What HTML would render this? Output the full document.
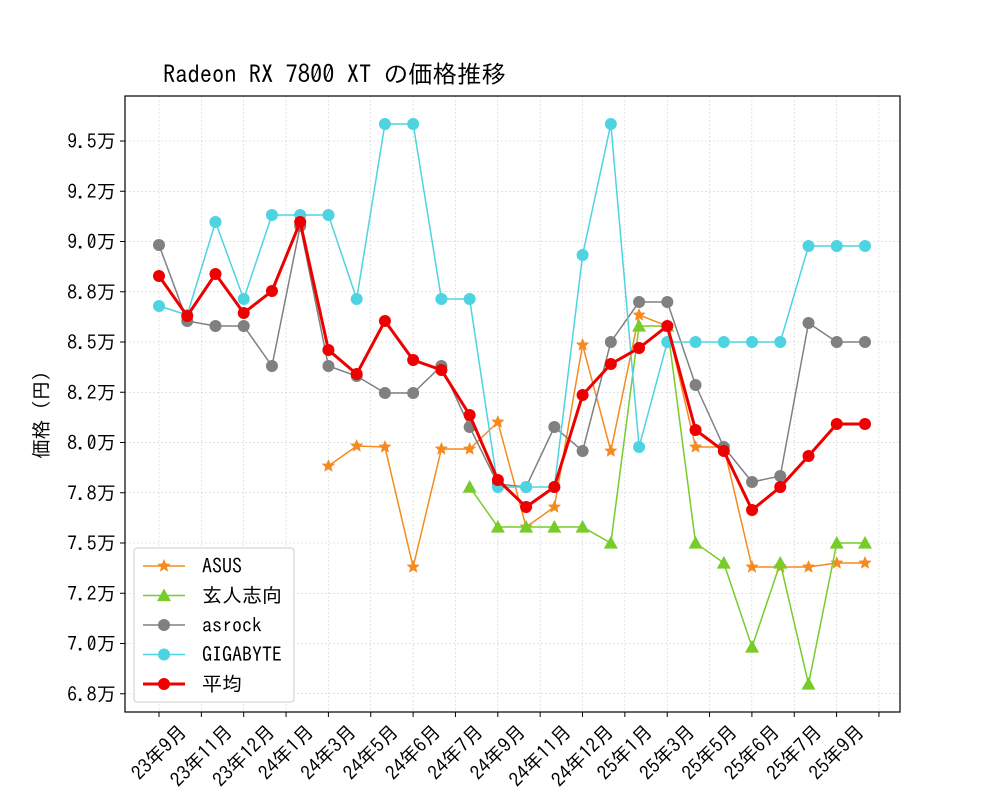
<!DOCTYPE html>
<html><head><meta charset="utf-8"><style>
body{margin:0;background:#fff}
svg text{font-family:"IPAGothic","Noto Sans CJK JP",monospace;fill:#000}
</style></head><body>
<svg width="1000" height="800" xmlns="http://www.w3.org/2000/svg">
<rect width="1000" height="800" fill="#fff"/>
<g id="grid" stroke="#c8c8c8" stroke-width="0.5" stroke-dasharray="2,2"></g>
<text x="163" y="83" font-size="24.5">Radeon RX 7800 XT の価格推移</text>
<text transform="translate(48,410) rotate(-90)" font-size="19.5" text-anchor="middle">価格（円）</text>
<g id="ax"></g>
<g id="series"></g>
<rect x="125" y="96" width="775" height="616" fill="none" stroke="#000" stroke-width="1.2"/>
<g id="legend">
<rect x="134" y="548" width="160" height="154" fill="#fff" fill-opacity="0.85" stroke="#ccc" rx="3"/>
</g>
<script>
const NS="http://www.w3.org/2000/svg";
function el(t,a,p){const e=document.createElementNS(NS,t);for(const k in a)e.setAttribute(k,a[k]);(p||document.querySelector('svg')).appendChild(e);return e;}
const grid=document.getElementById('grid'),ax=document.getElementById('ax'),ser=document.getElementById('series'),leg=document.getElementById('legend');
const ylab=["9.5","9.2","9.0","8.8","8.5","8.2","8.0","7.8","7.5","7.2","7.0","6.8"];
ylab.forEach((l,i)=>{const y=141+i*50.25;
el('line',{x1:125,x2:900,y1:y,y2:y},grid);
el('line',{x1:120,x2:125,y1:y,y2:y,stroke:'#000'},ax);
const t=el('text',{x:116,y:y+7,'font-size':19.5,'text-anchor':'end'},ax);t.textContent=l+'万';});
const xl=["23年9月","23年11月","23年12月","24年1月","24年3月","24年5月","24年6月","24年7月","24年9月","24年11月","24年12月","25年1月","25年3月","25年5月","25年6月","25年7月","25年9月"];
for(let i=0;i<18;i++){const x=159+i*42.35;
el('line',{x1:x,x2:x,y1:96,y2:712},grid);
el('line',{x1:x,x2:x,y1:712,y2:717,stroke:'#000'},ax);
if(i<17){const s=xl[i];let em=0;for(const ch of s)em+=/[0-9]/.test(ch)?0.5:1;const L=em*19.5,h=19.5;
const cy=721+(L+h)/(2*Math.SQRT2);
const t=el('text',{transform:`translate(${x},${cy}) rotate(-45)`,'font-size':19.5,'text-anchor':'middle',y:7},ax);t.textContent=s;}}
const X=i=>159+i*28.24;
function star(cx,cy,r,fill,p){let pts=[];for(let k=0;k<10;k++){const a=-Math.PI/2+k*Math.PI/5,rr=k%2?r*0.45:r;pts.push((cx+rr*Math.cos(a)).toFixed(1)+','+(cy+rr*Math.sin(a)).toFixed(1));}el('polygon',{points:pts.join(' '),fill},p);}
function tri(cx,cy,r,fill,p){el('polygon',{points:`${cx},${cy-r} ${cx-r},${cy+r*0.8} ${cx+r},${cy+r*0.8}`,fill},p);}
function mk(type,x,y,c,p){if(type=='o')el('circle',{cx:x,cy:y,r:6,fill:c},p);else if(type=='*')star(x,y,7,c,p);else tri(x,y,7,c,p);}
function series(start,ys,c,w,type){const pts=ys.map((y,i)=>[X(start+i),y]);
el('polyline',{points:pts.map(p=>p.join(',')).join(' '),fill:'none',stroke:c,'stroke-width':w},ser);
pts.forEach(p=>mk(type,p[0],p[1],c,ser));}
series(6,[466,446,447,567,449,449,422,527,507,345,451,315,326,447,447,567,567,567,563,563],'#f58a1f',1.5,'*');
series(11,[487,527,527,527,527,543,326,326,543,563,647,563,684,543,543],'#77cc2a',1.5,'^');
series(0,[245,321,326,326,366,226,366,376,393,393,366,427,484,487,427,451,342,302,302,385,447,482,476,323,342,342],'#808080',1.5,'o');
series(0,[306,315,222,299,215,215,215,299,124,124,299,299,487,487,487,255,124,447,342,342,342,342,342,246,246,246],'#4dd4e0',1.5,'o');
series(0,[276,316,274,313,291,222,350,374,321,360,370,415,480,507,487,395,364,348,326,430,451,510,487,456,424,424],'#ee0000',3,'o');
const L=[['ASUS','#f58a1f','*',1.5],['玄人志向','#77cc2a','^',1.5],['asrock','#808080','o',1.5],['GIGABYTE','#4dd4e0','o',1.5],['平均','#ee0000','o',3]];
L.forEach((l,i)=>{const y=566+i*29.5;
el('line',{x1:143,x2:185,y1:y,y2:y,stroke:l[1],'stroke-width':l[3]},leg);
mk(l[2],164,y,l[1],leg);
const t=el('text',{x:202,y:y+7,'font-size':20},leg);t.textContent=l[0];});
</script>
</svg>
</body></html>
